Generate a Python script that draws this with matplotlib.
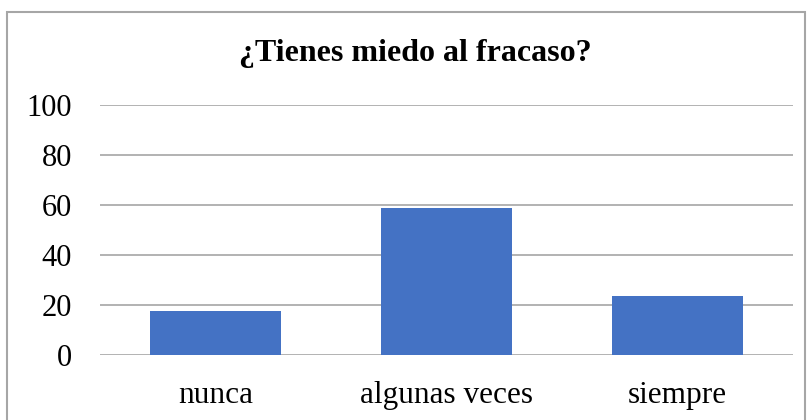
import matplotlib
matplotlib.use("Agg")
import matplotlib.pyplot as plt
from matplotlib.patches import Rectangle

categories = ["nunca", "algunas veces", "siempre"]
values = [17.6, 58.8, 23.5]
yticks = [0, 20, 40, 60, 80, 100]
title = "¿Tienes miedo al fracaso?"

W, H = 809, 420
fig = plt.figure(figsize=(W / 100, H / 100), dpi=100)
plt.rcParams['font.family'] = ['Liberation Serif', 'DejaVu Serif']

ax = fig.add_axes([100 / W, 1 - 355 / H, (793 - 100) / W, (355 - 105) / H])
x = range(len(categories))
ax.bar(x, values, width=0.565, color="#4472C4", zorder=3)
ax.set_xlim(-0.5, len(categories) - 0.5)
ax.set_ylim(0, 100)
ax.set_yticks(yticks)
ax.set_yticklabels([str(v) for v in yticks], fontsize=22)
ax.set_xticks(list(x))
ax.set_xticklabels(categories, fontsize=22.5)
ax.tick_params(axis='both', length=0)
ax.tick_params(axis='y', pad=20)
ax.tick_params(axis='x', pad=19)
for s in ax.spines.values():
    s.set_visible(False)
ax.grid(axis='y', color="#A6A6A6", linewidth=1.2, zorder=0)
ax.set_axisbelow(True)

fig.text(415 / W, 1 - 54 / H, title, ha='center', va='center',
         fontsize=23, fontweight='bold')

fig.patches.append(Rectangle((7 / W, -0.05), (805 - 7) / W, 1.05 - 12 / H,
                             transform=fig.transFigure, fill=False,
                             edgecolor="#A6A6A6", linewidth=1.5))

fig.savefig("out.png", dpi=100)
